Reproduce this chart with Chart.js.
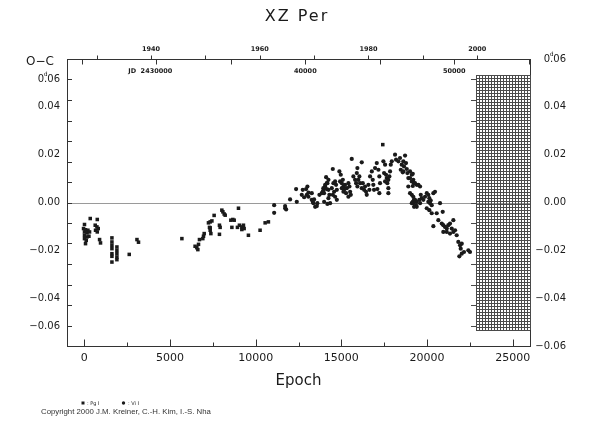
<!DOCTYPE html>
<html>
<head>
<meta charset="utf-8">
<title>XZ Per O-C</title>
<script src="https://cdn.jsdelivr.net/npm/chart.js@4.4.1/dist/chart.umd.min.js"></script>
<style>
  html, body { margin: 0; padding: 0; background: #fff; }
  canvas { display: block; }
</style>
</head>
<body>
<canvas id="ocChart" width="590" height="425"></canvas>
<script>
// --- Datos: O-C de XZ Per ---
// Fotográficas (Pg I), cuadrados
const pgEpoch = [20, 355, 765, 645, 745, 820, 665, 765, -35, 80, 220, 20, 165, 315, 20, 165, 280, 20, 120, 80,
  900, 955, 1620, 1620, 1620, 1620, 1620, 1620, 1620, 1910, 1910, 1910, 1910, 1910, 2630, 3080, 3170, 5700,
  6470, 6570, 6630, 6670, 6725, 6960, 7000, 6920, 7250, 7350, 7450, 7350, 7390, 7310, 7350, 7580, 7890, 7930,
  7890, 8030, 8090, 8165, 8225, 8555, 8670, 8750, 9000, 8615, 8940, 9055, 9195, 9290, 9195, 9330, 9580, 10260,
  10555, 10745, 17415];
const pgOC = [-0.0092, -0.0067, -0.0071, -0.0095, -0.0102, -0.0109, -0.0116, -0.0123, -0.0109, -0.0114, -0.0116,
  -0.0123, -0.0127, -0.0123, -0.0137, -0.0144, -0.0141, -0.0151, -0.0158, -0.0172, -0.0155, -0.0169, -0.0148,
  -0.0165, -0.0179, -0.0193, -0.0214, -0.0225, -0.0249, -0.0186, -0.0200, -0.0214, -0.0228, -0.0239, -0.0217,
  -0.0155, -0.0166, -0.0151, -0.0183, -0.0189, -0.0197, -0.0175, -0.0155, -0.0141, -0.0130, -0.0151, -0.0085,
  -0.0081, -0.0077, -0.0106, -0.0130, -0.0104, -0.0116, -0.0054, -0.0095, -0.0104, -0.0133, -0.0032, -0.0039,
  -0.0048, -0.0053, -0.0074, -0.0071, -0.0074, -0.0024, -0.0104, -0.0104, -0.0095, -0.0102, -0.0095, -0.0113,
  -0.0109, -0.0137, -0.0116, -0.0085, -0.0081, 0.0242];

// Visuales (Vi I), círculos
const viEpoch = [11080, 11080, 11720, 11720, 11780, 12010, 12360, 12400, 12690, 12750, 12830, 12945, 13020, 13080,
  12985, 13080, 13275, 13335, 13410, 13470, 13570, 13600, 13370, 13275, 13720, 13860, 13950, 14050, 14150, 14110,
  14245, 14300, 14245, 14345, 13995, 13950, 13915, 14055, 13990, 14150, 14185, 14245, 14185, 14500, 14440, 14535,
  14635, 14690, 14575, 14735, 14500, 14635, 14735, 14885, 14965, 14925, 15025, 15085, 15120, 15160, 15215, 15025,
  15120, 15275, 15315, 15410, 15470, 15510, 15550, 15410, 15605, 15700, 15800, 15900, 15935, 15860, 15935, 15990,
  16050, 16090, 16190, 16190, 16250, 16325, 16380, 16440, 16480, 16575, 16635, 16675, 16775, 16830, 16865, 16905,
  16965, 17065, 17160, 17215, 17255, 17100, 17215, 17450, 17550, 17490, 17605, 17645, 17740, 17680, 17550, 17800,
  17840, 17880, 17940, 17740, 17740, 18130, 18190, 18325, 18420, 18520, 18465, 18580, 18615, 18655, 18715, 18770,
  18815, 18850, 18905, 19005, 19105, 19195, 19295, 19395, 19005, 19105, 19195, 19295, 19395, 19355, 19240, 19395,
  18615, 19165, 19005, 19105, 19240, 19165, 19490, 19590, 18905, 19165, 19195, 19240, 19105, 19630, 19690, 19780,
  19880, 19980, 20070, 20130, 20210, 20070, 20170, 20270, 20365, 20460, 19545, 19590, 19980, 20130, 20270, 20560,
  20755, 20910, 20655, 20855, 20945, 21045, 21145, 21235, 21335, 21435, 21530, 21630, 21530, 21335, 21145, 20945,
  20365, 21725, 21820, 21920, 22020, 21960, 22020, 21880, 22150, 22405, 22500];
const viOC = [-0.0011, -0.0043, -0.0015, -0.0024, -0.0029, 0.0013, 0.0056, 0.0003, 0.0032, 0.0053, 0.0022, 0.0056,
  0.0067, 0.0041, 0.0032, 0.0024, 0.0011, 0.0003, 0.0013, -0.0018, -0.0015, -0.0003, -0.0003, 0.0039, 0.0032,
  0.0039, 0.0050, 0.0067, 0.0081, 0.0106, 0.0053, 0.0032, 0.0018, -0.0003, 0.0003, 0.0060, 0.0045, 0.0074, 0.0039,
  0.0056, 0.0081, 0.0095, -0.0006, 0.0140, 0.0060, 0.0081, 0.0088, 0.0074, 0.0045, 0.0053, 0.0032, 0.0024, 0.0011,
  0.0130, 0.0116, 0.0088, 0.0081, 0.0095, 0.0067, 0.0053, 0.0074, 0.0060, 0.0045, 0.0039, 0.0060, 0.0081, 0.0067,
  0.0045, 0.0032, 0.0024, 0.0182, 0.0109, 0.0095, 0.0123, 0.0144, 0.0081, 0.0067, 0.0095, 0.0109, 0.0081, 0.0168,
  0.0060, 0.0081, 0.0053, 0.0067, 0.0045, 0.0032, 0.0074, 0.0053, 0.0109, 0.0130, 0.0095, 0.0074, 0.0053, 0.0144,
  0.0165, 0.0137, 0.0109, 0.0081, 0.0056, 0.0039, 0.0172, 0.0158, 0.0123, 0.0116, 0.0102, 0.0095, 0.0081, 0.0088,
  0.0109, 0.0130, 0.0158, 0.0172, 0.0060, 0.0039, 0.0200, 0.0179, 0.0172, 0.0186, 0.0158, 0.0137, 0.0126, 0.0172,
  0.0151, 0.0196, 0.0165, 0.0140, 0.0123, 0.0102, 0.0130, 0.0116, 0.0095, 0.0081, 0.0074, 0.0039, 0.0032, 0.0024,
  0.0011, 0.0003, -0.0011, 0.0013, -0.0018, 0.0130, 0.0120, 0.0102, 0.0088, 0.0081, 0.0069, 0.0074, 0.0067, 0.0067,
  0.0003, -0.0003, -0.0018, -0.0003, 0.0032, 0.0018, 0.0011, 0.0024, 0.0039, 0.0032, 0.0018, 0.0008, 0.0003,
  -0.0003, -0.0011, 0.0039, 0.0045, 0.0011, -0.0003, -0.0024, -0.0032, -0.0045, -0.0045, -0.0003, -0.0039, -0.0074,
  -0.0088, -0.0095, -0.0102, -0.0109, -0.0095, -0.0088, -0.0109, -0.0074, -0.0116, -0.0123, -0.0130, -0.0123,
  -0.0123, -0.0099, -0.0137, -0.0165, -0.0179, -0.0172, -0.0193, -0.0214, -0.0225, -0.0207, -0.0200, -0.0207];

// Ejes
const epochRange = [-1000, 26000];
const ocRange = [-0.06, 0.06];
const epochTicks = [0, 5000, 10000, 15000, 20000, 25000];
const epochMinorTicks = [2500, 7500, 12500, 17500, 22500];
const ocLeftTicks = [0.04, 0.02, 0, -0.02, -0.04];
const ocRightTicks = [0.06, 0.04, 0.02, 0, -0.02, -0.04, -0.06];
const ocEdgeLabels = [0.06, -0.06];
const ocTickMarks = [-6, -5, -4, -3, -2, -1, 0, 1, 2, 3, 4, 5, 6].map((k) => (k * 0.12) / 14);

// Eje superior: años y fechas julianas (efemérides de XZ Per)
const jdZero = 2425145.5;
const period = 1.1516;
const yearTicks = [1930, 1940, 1950, 1960, 1970, 1980, 1990, 2000];
const yearLabels = [1940, 1960, 1980, 2000];
const jdTicks = [2425000, 2430000, 2435000, 2440000, 2445000, 2450000, 2455000];
const jdLabels = [2430000, 2440000, 2450000];

// Zona sin datos (rayada)
const hatchEpoch = [22850, 26000];
const hatchOC = [-0.0535, 0.0535];

const ink = "#1a1a1a";
const axisColor = "#333";
const font = (size, weight) => `${weight || "normal"} ${size}px "DejaVu Sans", sans-serif`;

const toPoints = (xs, ys) => xs.map((e, i) => ({ x: e, y: ys[i] }));
const epochOfJD = (jd) => (jd - jdZero) / period;
const jdOfYear = (yr) => 2415020.5 + (yr - 1900) * 365.25;
const fmtOC = (v) => (v < 0 ? "\u2212" : "") + Math.abs(v).toFixed(2);

function line(ctx, x1, y1, x2, y2) {
  ctx.beginPath();
  ctx.moveTo(x1, y1);
  ctx.lineTo(x2, y2);
  ctx.stroke();
}

// Dibuja un número "0.06" con la "d" volada sobre el punto
function drawDayLabel(ctx, text, rightX, midY) {
  ctx.font = font(10);
  ctx.textAlign = "left";
  ctx.textBaseline = "middle";
  const w = ctx.measureText(text).width;
  const start = rightX - w;
  ctx.fillText(text, start, midY);
  const intPart = text.slice(0, text.indexOf("."));
  const dotX = start + ctx.measureText(intPart).width + 1.5;
  ctx.font = font(6);
  ctx.textAlign = "center";
  ctx.fillText("d", dotX, midY - 5);
}

const decorPlugin = {
  id: "decor",
  beforeDraw(chart) {
    const { ctx, width, height } = chart;
    ctx.save();
    ctx.fillStyle = "#fff";
    ctx.fillRect(0, 0, width, height);
    ctx.restore();
  },
  beforeDatasetsDraw(chart) {
    const { ctx, chartArea: a, scales: { x, y } } = chart;
    ctx.save();
    ctx.lineWidth = 1;

    // Línea de O-C = 0
    ctx.strokeStyle = "#9a9a9a";
    const y0 = Math.round(y.getPixelForValue(0)) + 0.5;
    line(ctx, a.left, y0, a.right, y0);

    // Zona rayada
    const hx0 = Math.round(x.getPixelForValue(hatchEpoch[0]));
    const hx1 = Math.round(x.getPixelForValue(hatchEpoch[1]));
    const hy0 = Math.round(y.getPixelForValue(hatchOC[1]));
    const hy1 = Math.round(y.getPixelForValue(hatchOC[0]));
    ctx.strokeStyle = "#4a4a4a";
    for (let px = hx0; px <= hx1; px += 3) line(ctx, px + 0.5, hy0, px + 0.5, hy1);
    for (let py = hy0; py <= hy1; py += 3) line(ctx, hx0, py + 0.5, hx1, py + 0.5);
    ocTickMarks.forEach((v) => {
      const py = Math.round(y.getPixelForValue(v)) + 0.5;
      if (py > hy0 && py < hy1) line(ctx, hx0 - 5, py, hx0, py);
    });
    ctx.restore();
  },
  afterDraw(chart) {
    const { ctx, chartArea: a, scales: { x, y } } = chart;
    ctx.save();
    ctx.strokeStyle = axisColor;
    ctx.fillStyle = ink;
    ctx.lineWidth = 1;

    // Eje superior
    const top = Math.round(a.top) + 0.5;
    line(ctx, a.left, top, a.right, top);
    yearTicks.forEach((yr) => {
      const px = Math.round(x.getPixelForValue(epochOfJD(jdOfYear(yr)))) + 0.5;
      line(ctx, px, top, px, top - 4);
    });
    jdTicks.forEach((jd) => {
      const px = Math.round(x.getPixelForValue(epochOfJD(jd))) + 0.5;
      line(ctx, px, top, px, top + 5);
    });
    ctx.font = font(6.5, "bold");
    ctx.textAlign = "center";
    ctx.textBaseline = "middle";
    yearLabels.forEach((yr) => {
      ctx.fillText(String(yr), x.getPixelForValue(epochOfJD(jdOfYear(yr))), top - 10);
    });
    jdLabels.forEach((jd, i) => {
      const px = x.getPixelForValue(epochOfJD(jd));
      const txt = i === 0 ? String(jd) : String(jd % 100000);
      ctx.textAlign = "center";
      ctx.fillText(txt, px, top + 12);
      if (i === 0) {
        const w = ctx.measureText(txt).width;
        ctx.textAlign = "right";
        ctx.fillText("JD  ", px - w / 2, top + 12);
      }
    });

    // Marcas hacia dentro: abajo, izquierda y derecha
    const bottom = Math.round(a.bottom) + 0.5;
    epochTicks.forEach((e) => {
      const px = Math.round(x.getPixelForValue(e)) + 0.5;
      line(ctx, px, bottom, px, bottom - 7);
    });
    epochMinorTicks.forEach((e) => {
      const px = Math.round(x.getPixelForValue(e)) + 0.5;
      line(ctx, px, bottom, px, bottom - 4);
    });
    ocTickMarks.forEach((v) => {
      const py = Math.round(y.getPixelForValue(v)) + 0.5;
      line(ctx, a.left, py, a.left + 5, py);
    });

    // Etiquetas extremas de la izquierda y la "d" de la derecha
    ctx.fillStyle = ink;
    drawDayLabel(ctx, fmtOC(ocEdgeLabels[0]), a.left - 7, a.top + 20);
    ctx.font = font(10);
    ctx.textAlign = "right";
    ctx.textBaseline = "middle";
    ctx.fillText(fmtOC(ocEdgeLabels[1]), a.left - 7, a.bottom - 20);
    const y2 = chart.scales.y2;
    ctx.font = font(10);
    const w06 = ctx.measureText("0.06").width;
    const dx = y2.right - w06 + ctx.measureText("0").width + 1.5;
    ctx.fillStyle = "#fff";
    ctx.fillRect(dx - 2.5, y.getPixelForValue(0.06) - 9, 5, 5);
    ctx.fillStyle = ink;
    ctx.font = font(6);
    ctx.textAlign = "center";
    ctx.fillText("d", dx, y.getPixelForValue(0.06) - 5);

    // Textos
    ctx.textAlign = "center";
    ctx.textBaseline = "middle";
    ctx.font = font(16);
    ctx.letterSpacing = "2px";
    ctx.fillText("XZ Per", 297, 17);
    ctx.letterSpacing = "0px";
    ctx.font = font(12);
    ctx.fillText("O\u2212C", 40, 62);
    ctx.font = font(15);
    ctx.fillText("Epoch", (a.left + a.right) / 2, 381);

    // Leyenda
    ctx.fillRect(81.5, 401.5, 3, 3);
    ctx.beginPath();
    ctx.arc(123.5, 403, 1.7, 0, Math.PI * 2);
    ctx.fill();
    ctx.font = font(5);
    ctx.textAlign = "left";
    ctx.fillText(": Pg I", 87, 403.5);
    ctx.fillText(": Vi I", 128, 403.5);

    ctx.font = '7.8px "Liberation Sans", sans-serif';
    ctx.fillStyle = "#333";
    ctx.fillText("Copyright 2000 J.M. Kreiner, C.-H. Kim, I.-S. Nha", 41, 411.5);
    ctx.restore();
  },
};

new Chart(document.getElementById("ocChart"), {
  type: "scatter",
  data: {
    datasets: [
      {
        label: "Pg I",
        data: toPoints(pgEpoch, pgOC),
        pointStyle: "rect",
        pointRadius: 2.5,
        backgroundColor: ink,
        borderWidth: 0,
      },
      {
        label: "Vi I",
        data: toPoints(viEpoch, viOC),
        pointStyle: "circle",
        pointRadius: 2.1,
        backgroundColor: ink,
        borderWidth: 0,
      },
    ],
  },
  options: {
    responsive: false,
    animation: false,
    events: [],
    layout: { padding: { top: 59, right: 24, left: 0, bottom: 0 } },
    plugins: { legend: { display: false }, tooltip: { enabled: false } },
    scales: {
      x: {
        type: "linear",
        position: "bottom",
        min: epochRange[0],
        max: epochRange[1],
        afterBuildTicks: (s) => { s.ticks = epochTicks.map((v) => ({ value: v })); },
        afterFit: (s) => { s.height = 79; },
        grid: { display: false, drawTicks: false },
        border: { display: true, color: axisColor, width: 1 },
        ticks: { padding: 6, autoSkip: false, maxRotation: 0, color: ink, font: { family: "DejaVu Sans", size: 11 }, callback: (v) => String(v) },
      },
      y: {
        type: "linear",
        position: "left",
        min: ocRange[0],
        max: ocRange[1],
        afterBuildTicks: (s) => { s.ticks = ocLeftTicks.map((v) => ({ value: v })); },
        afterFit: (s) => { s.width = 67; },
        grid: { display: false, drawTicks: false },
        border: { display: true, color: axisColor, width: 1 },
        ticks: { padding: 7, autoSkip: false, color: ink, font: { family: "DejaVu Sans", size: 10 }, callback: (v) => fmtOC(v) },
      },
      y2: {
        type: "linear",
        position: "right",
        min: ocRange[0],
        max: ocRange[1],
        afterBuildTicks: (s) => { s.ticks = ocRightTicks.map((v) => ({ value: v })); },
        afterFit: (s) => { s.width = 36; },
        grid: { display: false, drawTicks: false },
        border: { display: true, color: axisColor, width: 1 },
        ticks: { padding: 7, autoSkip: false, crossAlign: "far", color: ink, font: { family: "DejaVu Sans", size: 10 }, callback: (v) => fmtOC(v) },
      },
    },
  },
  plugins: [decorPlugin],
});
</script>
</body>
</html>
